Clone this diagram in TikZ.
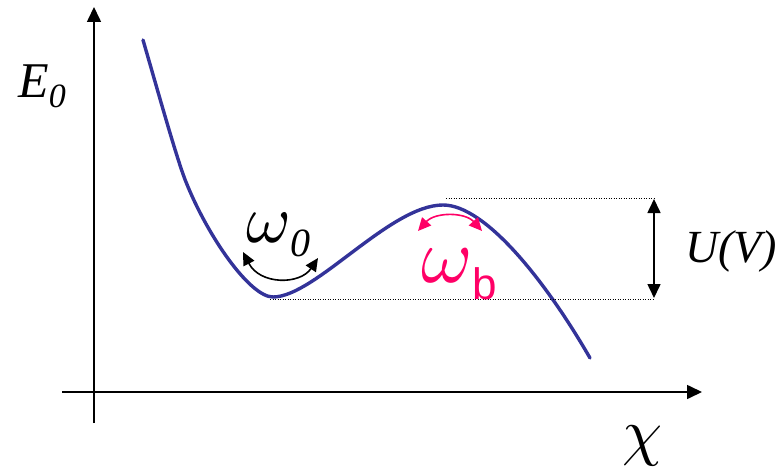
\documentclass[tikz,border=0pt]{standalone}
\usepackage{graphicx}
\usepackage{fontspec}
\setmainfont{Liberation Serif}
\newfontfamily\arialf{Liberation Sans}
\usetikzlibrary{arrows.meta}
\definecolor{curveblue}{RGB}{51,51,153}
\definecolor{hotpink}{RGB}{255,0,102}
\newcommand{\bigsym}[2]{{\normalsize\scalebox{#1}{$#2$}}}
\tikzset{
  axis/.style={line width=1.6pt,-{Triangle[length=15pt,width=14pt]}},
  dbl/.style={line width=1.6pt,{Triangle[length=14pt,width=13pt]}-{Triangle[length=14pt,width=13pt]}},
  osc/.style={line width=1.6pt,{Triangle[length=13pt,width=12pt]}-{Triangle[length=13pt,width=12pt]}},
  guide/.style={line width=1pt,dash pattern=on 1pt off 1.5pt},
  lbl/.style={inner sep=0pt,font=\itshape}
}
\begin{document}
\begin{tikzpicture}[x=1pt,y=-1pt]
\useasboundingbox (0,0) rectangle (783,470);
% axes
\coordinate (yb) at (94,423);
\coordinate (yt) at (94,7);
\coordinate (xl) at (62,392);
\coordinate (xr) at (702,392);
\draw[axis] (yb) -- (yt);
\draw[axis] (xl) -- (xr);
% potential curve
\coordinate (p0) at (143,40);
\coordinate (p1) at (186,182);
\coordinate (p2) at (273,297);
\coordinate (p3) at (443,205);
\coordinate (p4) at (590,358);
\draw[curveblue,line width=3.4pt,line cap=round]
  (p0) .. controls (157,88) and (177,160) .. (p1)
       .. controls (208,237) and (250,297) .. (p2)
       .. controls (315,297) and (390,205) .. (p3)
       .. controls (485,205) and (545,280) .. (p4);
% guide lines
\coordinate (minL) at (270,299);
\coordinate (minR) at (655,299);
\coordinate (maxL) at (446,199);
\coordinate (maxR) at (655,199);
\draw[guide] (minL) -- (minR);
\draw[guide] (maxL) -- (maxR);
% barrier arrow
\coordinate (ut) at (654,199);
\coordinate (ub) at (654,298);
\draw[dbl] (ut) -- (ub);
% labels
\node[lbl,font=\fontsize{46}{46}\selectfont\itshape] (uv) at (731,251) {U(V)};
\node[lbl,font=\fontsize{50}{50}\selectfont\itshape] (e0) at (42,86) {E\raisebox{-10pt}{\fontsize{34}{34}\selectfont 0}};
\node[lbl] (chi) at (643,446) {\bigsym{6.4}{\chi}};
% omega_0
\node[lbl,font=\fontsize{40}{40}\selectfont\itshape,anchor=base west] (w0) at (246,242) {\bigsym{6.8}{\omega}\raisebox{-14pt}{0}};
\coordinate (w0l) at (243,252);
\coordinate (w0r) at (318,258);
\draw[osc] (w0l) .. controls (260,285) and (300,285) .. (w0r);
% omega_b
\node[lbl,text=hotpink,anchor=base west] (wb) at (421,282) {\bigsym{7.8}{\omega}\raisebox{-17pt}{\arialf\upshape\fontsize{44}{44}\selectfont b}};
\coordinate (wbl) at (418,231);
\coordinate (wbr) at (482,231);
\draw[osc,hotpink] (wbl) .. controls (435,212) and (465,212) .. (wbr);
\end{tikzpicture}
\end{document}
